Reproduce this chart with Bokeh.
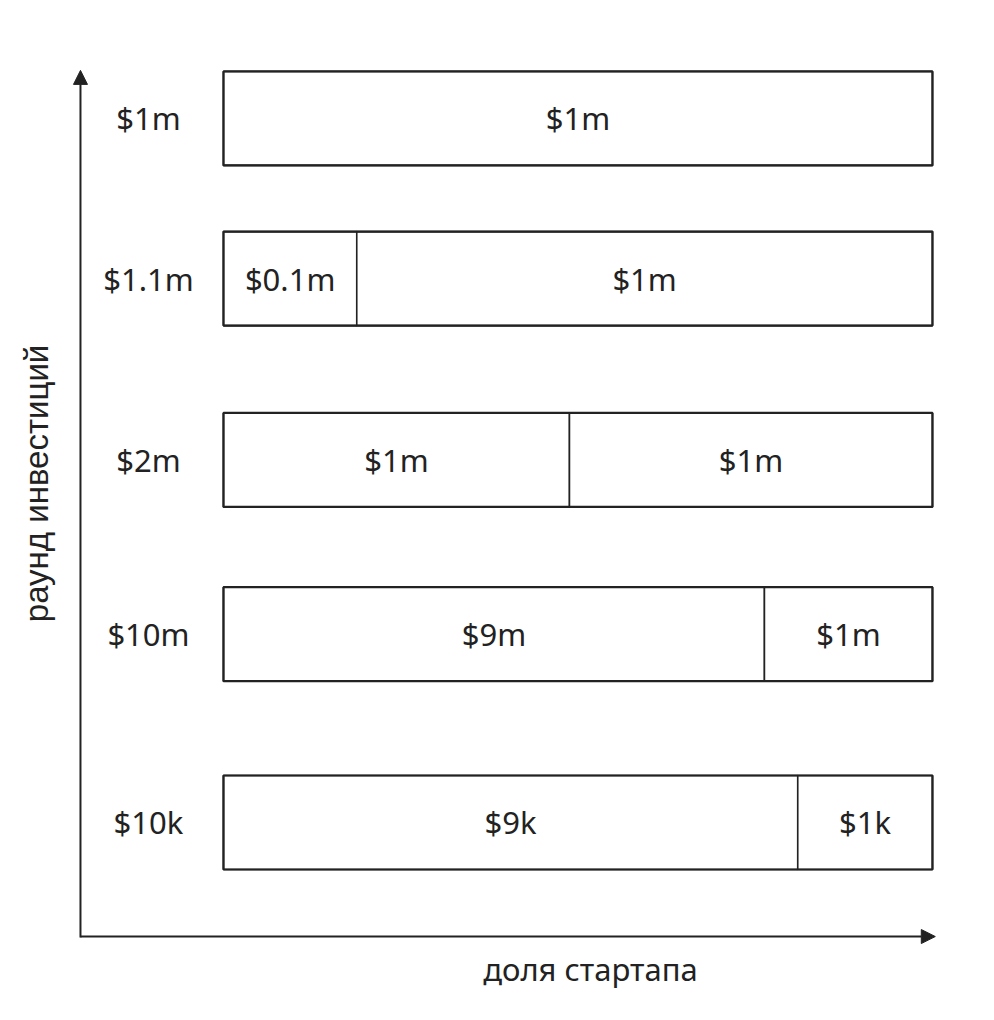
from bokeh.plotting import figure
from bokeh.models import Range1d, Arrow, NormalHead, ColumnDataSource
from bokeh.core.properties import value
from bokeh.embed import file_html
from bokeh.resources import INLINE

# ---- data ----
rounds = ["$1m", "$1.1m", "$2m", "$10m", "$10k"]
row_pos = [4.0, 3.09, 2.06, 1.07, 0.0]
seg_shares = [
    [1.0],
    [0.188, 0.812],
    [0.488, 0.512],
    [0.763, 0.237],
    [0.81, 0.19],
]
seg_labels = [
    ["$1m"],
    ["$0.1m", "$1m"],
    ["$1m", "$1m"],
    ["$9m", "$1m"],
    ["$9k", "$1k"],
]
x_title = "доля стартапа"
y_title = "раунд инвестиций"

INK = "#222222"
FONT = "Noto Sans"
FS = "31px"
BAR_H = 0.534

p = figure(width=994, height=1020, output_backend="svg", toolbar_location=None,
           x_range=Range1d(-0.3145, 1.0875), y_range=Range1d(-1.125, 4.670),
           min_border=0, outline_line_color=None)
p.axis.visible = False
p.grid.visible = False
p.background_fill_color = "white"
p.border_fill_color = "white"

lefts, rights, ys, lx, ly, lt = [], [], [], [], [], []
for y, shares, labs in zip(row_pos, seg_shares, seg_labels):
    acc = 0.0
    for s, lab in zip(shares, labs):
        lefts.append(acc)
        rights.append(acc + s)
        ys.append(y)
        lx.append(acc + s / 2)
        ly.append(y)
        lt.append(lab)
        acc += s

seg_src = ColumnDataSource(dict(left=lefts, right=rights, y=ys))
p.hbar(y="y", left="left", right="right", height=BAR_H, source=seg_src,
       fill_color="white", line_color=INK, line_width=1.6)
# outer boxes
p.hbar(y=row_pos, left=0, right=[sum(s) for s in seg_shares], height=BAR_H,
       fill_color=None, line_color=INK, line_width=2.2)

p.text(x=lx, y=ly, text=lt, text_font=value(FONT), text_font_size=FS,
       text_color=INK, text_align="center", text_baseline="middle")

# row labels
p.text(x=[-0.1058] * len(rounds), y=row_pos, text=rounds, text_font=value(FONT),
       text_font_size=FS, text_color=INK, text_align="center", text_baseline="middle")

# axis arrows
ax_x = -0.2017
ax_y = -0.648
p.add_layout(Arrow(end=NormalHead(size=14, fill_color=INK, line_color=INK),
                   x_start=ax_x, y_start=-0.653, x_end=ax_x, y_end=4.273,
                   line_color=INK, line_width=2))
p.add_layout(Arrow(end=NormalHead(size=14, fill_color=INK, line_color=INK),
                   x_start=ax_x, y_start=ax_y, x_end=1.004, y_end=ax_y,
                   line_color=INK, line_width=2))

p.text(x=[0.5176], y=[-0.83], text=[x_title], text_font=value(FONT),
       text_font_size=FS, text_color=INK, text_align="center", text_baseline="middle")
p.text(x=[-0.264], y=[1.926], text=[y_title], text_font=value("Liberation Sans"),
       text_font_size="33px", text_color=INK, text_align="center", text_baseline="middle",
       angle=1.5708)

open("out.html", "w").write(file_html(p, INLINE))
